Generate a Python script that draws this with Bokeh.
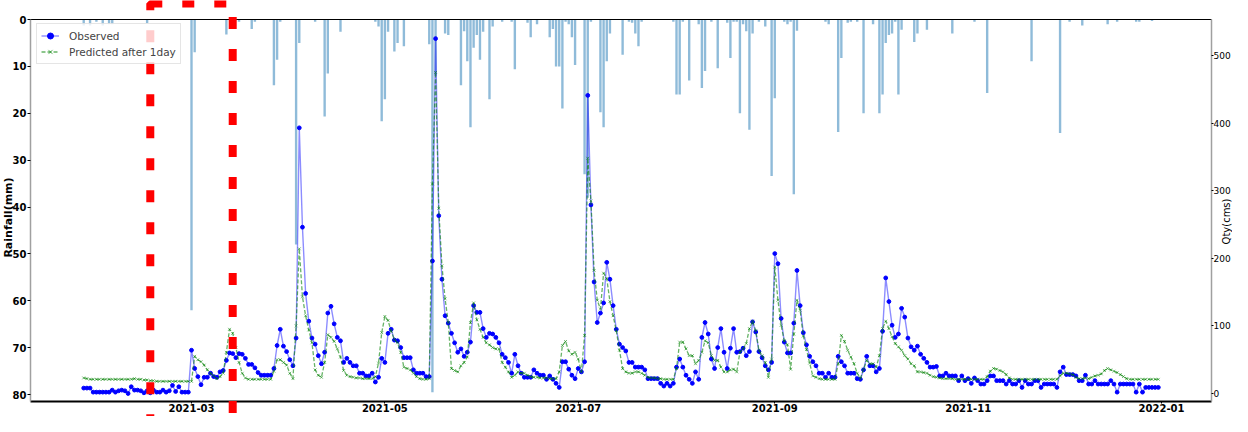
import math
import pandas as pd
from bokeh.plotting import figure
from bokeh.models import (Range1d, LinearAxis, DatetimeAxis, FixedTicker, DatetimeTickFormatter,
                          BoxAnnotation, Label, Legend, LegendItem, ColumnDataSource)
from bokeh.embed import file_html
from bokeh.resources import INLINE

# ---------------- data ----------------
start_date = "2021-01-26"
end_date = "2021-12-31"

obs_janfeb = [8, 8, 8, 2, 2, 2,
              2, 2, 2, 5, 2, 4, 5, 4, 0, 10, 5, 5, 4, 1, 4, 1, 5, 2, 2, 5, 2, 4, 12, 3, 10, 2, 2, 2]
obs_mar = [64, 37, 25, 13, 24, 24, 30, 25, 24, 32, 34, 49, 60, 59, 53, 59, 58, 52, 43, 43,
           38, 31, 27, 27, 27, 27, 37, 71, 95, 70, 62]
obs_apr = [50, 41, 82, 393, 246, 148, 107, 82, 73, 56, 44, 61, 119, 129, 103, 83, 78, 46, 52, 46,
           41, 41, 30, 30, 26, 26, 30, 17, 24, 52]
obs_may = [46, 89, 95, 79, 78, 68, 53, 53, 53, 35, 30, 30, 30, 25, 25, 196, 525, 263, 169, 115,
           104, 89, 75, 61, 66, 55, 61, 76, 130, 120, 120]
obs_jun = [96, 83, 89, 88, 83, 75, 58, 53, 46, 30, 58, 41, 30, 24, 24, 24, 35, 30, 27, 27,
           21, 26, 21, 15, 9, 47, 47, 36, 27, 22]
obs_jul = [37, 32, 47, 441, 279, 165, 105, 119, 134, 194, 169, 130, 95, 73, 68, 63, 46, 46, 39, 39,
           39, 35, 22, 22, 22, 22, 15, 11, 15, 11, 15]
obs_aug = [39, 51, 39, 27, 21, 15, 32, 21, 83, 105, 88, 51, 37, 68, 96, 61, 37, 67, 96, 61,
           62, 67, 56, 62, 106, 91, 62, 53, 41, 35, 46]
obs_sep = [207, 192, 111, 76, 60, 60, 104, 182, 130, 90, 72, 55, 47, 41, 30, 30, 24, 30, 24, 24,
           55, 47, 41, 30, 30, 30, 22, 21, 35, 55]
obs_oct = [41, 41, 32, 37, 92, 171, 136, 101, 83, 88, 126, 113, 82, 69, 64, 70, 58, 52, 46, 39,
           39, 40, 26, 26, 30, 26, 26, 26, 19, 26, 19]
obs_nov = [22, 15, 23, 19, 14, 14, 19, 26, 26, 19, 19, 19, 14, 19, 14, 14, 19, 9, 19, 14,
           14, 19, 19, 9, 14, 14, 14, 14, 9, 32]
obs_dec = [39, 28, 28, 28, 26, 19, 19, 27, 14, 14, 19, 14, 14, 14, 14, 19, 14, 2, 14, 14,
           14, 14, 14, 2, 14, 2, 9, 9, 9, 9, 9]

pred_janfeb = [23, 22, 21, 21, 21, 21,
               21, 21, 21, 21, 21, 21, 21, 21, 21, 21, 22, 21, 21, 20, 20, 19, 19, 18, 18, 18,
               18, 18, 18, 18, 18, 18, 18, 18]
pred_mar = [18, 55, 50, 47, 42, 35, 30, 26, 22, 25, 30, 61, 95, 89, 68, 46, 30, 23, 21, 21,
            21, 21, 21, 21, 21, 21, 33, 50, 50, 46, 42]
pred_apr = [30, 22, 100, 214, 143, 115, 94, 75, 35, 27, 24, 46, 87, 83, 77, 66, 54, 34, 27, 25,
            24, 23, 23, 22, 22, 22, 22, 25, 45, 90]
pred_may = [114, 108, 92, 80, 75, 61, 39, 37, 35, 30, 25, 22, 21, 21, 22, 310, 475, 274, 189, 140,
            105, 37, 34, 32, 41, 46, 54, 105, 134, 109, 95]
pred_jun = [83, 75, 72, 68, 66, 66, 46, 39, 32, 24, 27, 32, 30, 30, 27, 25, 24, 24, 23, 23,
            23, 22, 22, 22, 32, 71, 77, 63, 58, 61]
pred_jul = [51, 32, 86, 348, 285, 182, 138, 125, 178, 170, 136, 115, 93, 64, 37, 32, 30, 30, 32, 32,
            30, 27, 24, 23, 23, 22, 22, 21, 21, 21, 21]
pred_aug = [37, 76, 76, 66, 56, 56, 44, 49, 61, 78, 75, 56, 49, 49, 39, 32, 32, 35, 36, 32,
            61, 66, 74, 96, 107, 93, 64, 56, 46, 24, 51]
pred_sep = [187, 138, 101, 78, 72, 36, 88, 138, 123, 85, 65, 45, 26, 24, 22, 21, 21, 21, 21, 21,
            44, 86, 77, 64, 54, 44, 30, 22, 36, 49]
pred_oct = [44, 44, 39, 56, 96, 107, 96, 84, 74, 69, 64, 56, 51, 44, 41, 32, 32, 31, 30, 27,
            25, 24, 23, 22, 22, 22, 22, 21, 21, 21, 21]
pred_nov = [21, 21, 21, 21, 21, 21, 25, 33, 37, 36, 34, 32, 28, 23, 21, 21, 21, 21, 21, 21,
            21, 21, 21, 21, 21, 21, 21, 21, 21, 26]
pred_dec = [30, 30, 29, 28, 24, 22, 22, 23, 22, 24, 26, 27, 29, 34, 37, 35, 33, 31, 28, 25,
            22, 21, 21, 21, 21, 21, 21, 21, 21, 21, 21]

rain_dates = ["2021-01-26", "2021-01-28", "2021-01-30", "2021-02-01", "2021-02-03", "2021-02-04",
              "2021-02-15", "2021-03-01", "2021-03-02", "2021-03-12", "2021-03-16", "2021-03-20",
              "2021-03-21", "2021-03-27", "2021-03-28", "2021-03-29", "2021-04-03", "2021-04-04",
              "2021-04-09", "2021-04-12", "2021-04-13", "2021-04-17", "2021-04-28", "2021-04-29",
              "2021-04-30", "2021-05-01", "2021-05-02", "2021-05-04", "2021-05-05", "2021-05-07",
              "2021-05-15", "2021-05-16", "2021-05-17", "2021-05-20", "2021-05-21", "2021-05-25",
              "2021-05-26", "2021-05-27", "2021-05-28", "2021-05-29", "2021-05-30", "2021-05-31",
              "2021-06-01", "2021-06-03", "2021-06-04", "2021-06-07", "2021-06-10", "2021-06-11",
              "2021-06-15", "2021-06-16", "2021-06-18", "2021-06-22", "2021-06-23", "2021-06-24",
              "2021-06-25", "2021-06-26", "2021-06-27", "2021-06-28", "2021-06-29", "2021-06-30",
              "2021-07-03", "2021-07-04", "2021-07-05", "2021-07-08", "2021-07-09", "2021-07-10",
              "2021-07-11", "2021-07-15", "2021-07-17", "2021-07-18", "2021-07-19", "2021-07-20",
              "2021-07-21", "2021-07-31", "2021-08-01", "2021-08-02", "2021-08-03", "2021-08-05",
              "2021-08-08", "2021-08-09", "2021-08-10", "2021-08-12", "2021-08-14", "2021-08-17",
              "2021-08-18", "2021-08-19", "2021-08-20", "2021-08-21", "2021-08-22", "2021-08-23",
              "2021-08-24", "2021-08-25", "2021-08-27", "2021-08-29", "2021-08-31", "2021-09-01",
              "2021-09-04", "2021-09-05", "2021-09-06", "2021-09-07", "2021-09-08", "2021-09-17",
              "2021-09-18", "2021-09-21", "2021-09-22", "2021-09-24", "2021-09-25", "2021-09-27",
              "2021-09-29", "2021-10-02", "2021-10-04", "2021-10-05", "2021-10-06", "2021-10-07",
              "2021-10-08", "2021-10-09", "2021-10-10", "2021-10-11", "2021-10-15", "2021-10-16",
              "2021-10-19", "2021-10-27", "2021-11-03", "2021-11-07", "2021-11-21", "2021-11-30",
              "2021-12-03", "2021-12-07", "2021-12-15", "2021-12-18", "2021-12-24", "2021-12-25",
              "2021-12-29"]
rain_mm = [1.3, 1.3, 0.5, 1.3, 1.0, 1.0,
           0.8, 62, 7, 3.2, 0.5, 2,
           0.5, 14, 8.6, 0.5, 48, 5,
           0.5, 20.7, 11.5, 2.6, 0.5, 1.5,
           21.7, 17, 2.6, 6.8, 5, 5.7,
           5.3, 79.5, 12, 3, 3.3, 14,
           2.5, 8.9, 23, 6, 3.3, 8.6,
           2.6, 17, 1.5, 0.5, 0.5, 10.6,
           0.7, 3.8, 1, 3.8, 2, 10,
           10, 19, 0.5, 1, 3.8, 9.7,
           33, 38, 0.5, 19.8, 23, 8.9,
           3, 7.5, 0.5, 0.7, 3, 5.7,
           0.5, 0.5, 16, 16, 0.5, 13,
           1, 14.6, 11, 0.5, 10.4, 0.7,
           8.2, 0.5, 0.5, 20, 1, 2.5,
           23.5, 3, 0.5, 1.5, 33.4, 16.8,
           0.5, 1, 0.5, 37.3, 2.4, 0.5,
           1, 24, 8.2, 0.7, 0.5, 0.5,
           20, 1, 20, 16, 5, 3.3,
           3, 0.5, 16, 2.2, 4.8, 3,
           2.2, 3, 0.5, 15.7, 8.9, 24.2,
           0.5, 1.3, 1, 0.5, 0.5, 0.5,
           0.3]

highlight_start = "2021-02-16"
highlight_end = "2021-03-14"

x_ticks = ["2021-03-01", "2021-05-01", "2021-07-01", "2021-09-01", "2021-11-01", "2022-01-01"]
rain_ticks = [0, 10, 20, 30, 40, 50, 60, 70, 80]
qty_ticks = [0, 100, 200, 300, 400, 500]

# ---------------- assemble ----------------
observed = (obs_janfeb + obs_mar + obs_apr + obs_may + obs_jun + obs_jul + obs_aug + obs_sep
            + obs_oct + obs_nov + obs_dec)
predicted = (pred_janfeb + pred_mar + pred_apr + pred_may + pred_jun + pred_jul + pred_aug
             + pred_sep + pred_oct + pred_nov + pred_dec)
dates = pd.date_range(start_date, end_date, freq="D")
assert len(dates) == len(observed) == len(predicted), (len(dates), len(observed), len(predicted))
assert len(rain_dates) == len(rain_mm), (len(rain_dates), len(rain_mm))

src = ColumnDataSource(dict(date=dates, obs=observed, pred=predicted))
rain_src = ColumnDataSource(dict(date=pd.to_datetime(rain_dates), mm=rain_mm))

DAY = 86400000.0


def ms(s):
    return pd.Timestamp(s).value / 1e6


# ---------------- layout (pixel geometry of the frame) ----------------
W, H = 1232, 416
PX_PER_DAY = 3.17
X_REF_PX = 191.0                 # pixel of 2021-03-01
X_REF_MS = ms("2021-03-01")
RAIN_TOP_PX, RAIN_PX_PER_MM = 19.0, 4.6875
Q_ZERO_PX, Q_PX_PER_UNIT = 393.0, 0.676
FRAME_L, FRAME_R, FRAME_T, FRAME_B = 30.0, 1211.0, 19.0, 401.0


def px2ms(x):
    return X_REF_MS + (x - X_REF_PX) / PX_PER_DAY * DAY


def px2mm(y):
    return (y - RAIN_TOP_PX) / RAIN_PX_PER_MM


def px2q(y):
    return (Q_ZERO_PX - y) / Q_PX_PER_UNIT


p = figure(width=W, height=H, x_axis_type="datetime",
           x_range=Range1d(px2ms(0), px2ms(W)),
           y_range=Range1d(px2mm(H), px2mm(0)),
           output_backend="svg", toolbar_location=None,
           min_border_left=0, min_border_right=0, min_border_top=0, min_border_bottom=0)
p.extra_y_ranges = {"q": Range1d(px2q(H), px2q(0))}
p.outline_line_color = None
p.xgrid.visible = False
p.ygrid.visible = False
p.background_fill_color = "white"
p.border_fill_color = "white"

# rainfall bars (hanging from top)
p.vbar(x="date", top="mm", bottom=0, width=0.75 * DAY, source=rain_src,
       fill_color="#1f77b4", fill_alpha=0.5, line_color=None)

# observed
r_obs_l = p.line("date", "obs", source=src, y_range_name="q", line_color="blue",
                 line_alpha=0.45, line_width=1.4)
r_obs_m = p.scatter("date", "obs", source=src, y_range_name="q", marker="circle", size=3.8,
                    fill_color="blue", line_color="blue")
# predicted
r_pr_l = p.line("date", "pred", source=src, y_range_name="q", line_color="green",
                line_alpha=0.6, line_width=1.3, line_dash="4 2")
r_pr_m = p.scatter("date", "pred", source=src, y_range_name="q", marker="x", size=4,
                   line_color="green", line_alpha=0.55, line_width=1)

font = "DejaVu Sans"


def style_axis(ax, size, bold, line_color, line_width, tick_out, standoff):
    ax.axis_line_color = line_color
    ax.axis_line_width = line_width
    ax.major_tick_out = tick_out
    ax.major_tick_in = 0
    ax.minor_tick_out = 0
    ax.minor_tick_in = 0
    ax.major_tick_line_color = "black"
    ax.major_label_standoff = standoff
    ax.major_label_text_font = font
    ax.major_label_text_font_size = size
    ax.major_label_text_font_style = "bold" if bold else "normal"
    ax.major_label_text_color = "black"


# bottom date axis
xa = p.xaxis[0]
xa.ticker = FixedTicker(ticks=[ms(t) for t in x_ticks])
fmt = "%Y-%m"
xa.formatter = DatetimeTickFormatter(days=fmt, months=fmt, years=fmt)
xa.fixed_location = px2mm(FRAME_B)
xa.bounds = (px2ms(FRAME_L), px2ms(FRAME_R))
style_axis(xa, "10px", True, "black", 2, 2, 0)

# left rainfall axis
ya = p.yaxis[0]
ya.ticker = FixedTicker(ticks=rain_ticks)
ya.fixed_location = px2ms(FRAME_L)
ya.bounds = (0, px2mm(FRAME_B))
style_axis(ya, "10px", True, "#a0a0a0", 1.5, 3, 1)

# right quantity axis
ra = LinearAxis(y_range_name="q", ticker=FixedTicker(ticks=qty_ticks))
ra.fixed_location = px2ms(FRAME_R)
ra.bounds = (px2q(FRAME_B), px2q(FRAME_T))
style_axis(ra, "9px", False, "#a0a0a0", 1.5, 2, 0)
p.add_layout(ra, "right")

# top spine
ta = DatetimeAxis(ticker=FixedTicker(ticks=[]))
ta.fixed_location = 0
ta.bounds = (px2ms(FRAME_L), px2ms(FRAME_R))
style_axis(ta, "0px", False, "black", 1.2, 0, 0)
p.add_layout(ta, "above")

# axis titles
p.add_layout(Label(x=px2ms(8), y=px2mm(217), text="Rainfall(mm)",
                   angle=math.pi / 2, text_align="center", text_baseline="middle",
                   text_font=font, text_font_size="11px", text_font_style="bold",
                   text_color="black"))
p.add_layout(Label(x=px2ms(1225.5), y=px2mm(221), text="Qty(cms)",
                   angle=math.pi / 2, text_align="center", text_baseline="middle",
                   text_font=font, text_font_size="10px", text_color="black"))

# legend
legend = Legend(items=[LegendItem(label="Observed", renderers=[r_obs_l, r_obs_m]),
                       LegendItem(label="Predicted after 1day", renderers=[r_pr_l, r_pr_m])],
                location=(36, H - 64), margin=0, padding=4, spacing=1,
                glyph_width=18, glyph_height=15, label_height=15, label_standoff=10,
                label_text_font=font, label_text_font_size="10.5px",
                border_line_color="#cccccc", border_line_width=1,
                background_fill_color="white", background_fill_alpha=0.8)
p.add_layout(legend)

# red dashed highlight window
p.add_layout(BoxAnnotation(left=ms(highlight_start), right=ms(highlight_end),
                           top=px2mm(3), bottom=px2mm(436),
                           fill_alpha=0, line_color="red", line_alpha=1, line_width=8,
                           line_dash="12 20", level="overlay"))

open("out.html", "w").write(file_html(p, INLINE))
